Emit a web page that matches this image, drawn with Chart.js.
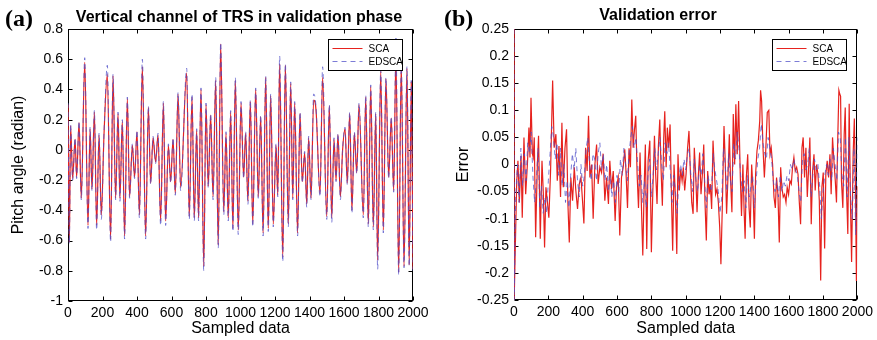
<!DOCTYPE html>
<html>
<head>
<meta charset="utf-8">
<script src="https://cdn.jsdelivr.net/npm/chart.js@4.4.0/dist/chart.umd.min.js"></script>
<style>
  body { margin: 0; background: #fff; }
  #wrap { position: relative; width: 877px; height: 340px; overflow: hidden; }
  canvas { position: absolute; top: 0; }
  #pitchChart { left: 0; }
  #errChart { left: 438px; }
  .tag { position: absolute; font: bold 24px "Liberation Serif", "DejaVu Serif", serif; line-height: 24px; color: #000; }
  .ttl { position: absolute; font: bold 16px "Liberation Sans", Arial, sans-serif; line-height: 18px; color: #000; white-space: nowrap; transform: translateX(-50%); }
</style>
</head>
<body>
<div id="wrap">
  <canvas id="pitchChart" width="438" height="340"></canvas>
  <canvas id="errChart" width="439" height="340"></canvas>
  <div class="tag" style="left:5px; top:6px;">(a)</div>
  <div class="tag" style="left:444px; top:6px;">(b)</div>
  <div class="ttl" style="left:239px; top:8px;">Vertical channel of TRS in validation phase</div>
  <div class="ttl" style="left:658px; top:6px;">Validation error</div>
</div>
<script>
// sample index ticks shared by both panels
const sampleTicks = [0, 200, 400, 600, 800, 1000, 1200, 1400, 1600, 1800, 2000];
const pitchTicks = [-1, -0.8, -0.6, -0.4, -0.2, 0, 0.2, 0.4, 0.6, 0.8];
const errTicks = [-0.25, -0.2, -0.15, -0.1, -0.05, 0, 0.05, 0.1, 0.15, 0.2, 0.25];
const seriesNames = ['SCA', 'EDSCA'];

// pitch angle turning points [sample, radian]
const pitchSCA = [
  [0,0.30],[8,-0.61],[15,0.16],[27,-0.19],[41,0.07],[50,-0.18],[64,0.18],[77,-0.32],[97,0.58],[116,-0.50],
  [128,0.14],[139,-0.26],[153,0.25],[166,-0.50],[180,0.10],[193,-0.43],[209,0.11],[228,0.50],[247,-0.59],[261,0.49],
  [276,-0.32],[290,0.24],[301,-0.32],[315,0.19],[328,-0.57],[344,0.34],[357,-0.31],[373,0.03],[386,-0.18],[400,0.12],
  [414,-0.43],[431,0.55],[450,-0.57],[466,0.28],[479,-0.22],[493,0.08],[508,-0.08],[522,0.10],[537,-0.47],[553,0.31],
  [566,-0.47],[582,0.03],[595,-0.21],[609,0.07],[622,-0.29],[638,0.37],[653,-0.25],[688,0.51],[703,-0.44],[719,0.35],
  [732,-0.45],[746,0.13],[757,-0.45],[771,0.40],[787,-0.77],[800,0.30],[813,-0.24],[827,0.23],[841,-0.31],[856,0.46],
  [871,-0.63],[885,0.70],[903,-0.41],[916,0.11],[929,-0.45],[943,0.25],[956,-0.52],[970,0.46],[987,-0.53],[1003,0.31],
  [1018,-0.18],[1030,0.11],[1043,-0.34],[1057,0.32],[1071,-0.49],[1088,0.40],[1103,-0.31],[1117,0.22],[1131,-0.55],[1146,0.48],
  [1161,-0.52],[1175,0.36],[1190,-0.49],[1206,0.03],[1216,-0.30],[1227,0.57],[1245,-0.71],[1260,0.56],[1277,-0.49],[1291,0.44],
  [1303,-0.32],[1314,0.31],[1331,-0.55],[1345,0.24],[1358,-0.21],[1372,-0.02],[1384,-0.36],[1395,0.08],[1409,-0.32],[1424,0.33],
  [1438,0.26],[1461,-0.29],[1476,0.48],[1500,-0.44],[1515,0.29],[1529,-0.45],[1542,0.07],[1554,-0.20],[1565,0.10],[1579,-0.31],
  [1592,0.00],[1606,0.14],[1619,-0.22],[1633,0.24],[1646,-0.40],[1660,0.11],[1674,-0.15],[1687,0.30],[1712,-0.43],[1726,0.35],
  [1741,-0.49],[1755,0.42],[1770,-0.51],[1784,0.24],[1795,-0.73],[1813,0.52],[1828,-0.53],[1843,0.47],[1859,-0.18],[1874,0.21],
  [1888,-0.27],[1901,0.62],[1917,-0.81],[1932,0.57],[1948,-0.77],[1965,0.54],[1978,-0.76],[1990,0.45],[2000,-0.79]
];
const pitchEDSCA = [
  [0,0.31],[8,-0.62],[15,0.17],[27,-0.20],[41,0.08],[50,-0.19],[64,0.19],[77,-0.33],[97,0.61],[116,-0.52],
  [128,0.15],[139,-0.27],[153,0.26],[166,-0.53],[180,0.11],[193,-0.46],[209,0.12],[228,0.56],[247,-0.61],[261,0.50],
  [276,-0.33],[290,0.25],[301,-0.34],[315,0.20],[328,-0.59],[344,0.35],[357,-0.32],[373,0.04],[386,-0.19],[400,0.13],
  [414,-0.45],[431,0.60],[450,-0.59],[466,0.29],[479,-0.23],[493,0.09],[508,-0.09],[522,0.11],[537,-0.50],[553,0.32],
  [566,-0.50],[582,0.04],[595,-0.22],[609,0.08],[622,-0.30],[638,0.38],[653,-0.27],[688,0.54],[703,-0.46],[719,0.37],
  [732,-0.47],[746,0.14],[757,-0.47],[771,0.41],[787,-0.80],[800,0.31],[813,-0.25],[827,0.24],[841,-0.33],[856,0.48],
  [871,-0.65],[885,0.71],[903,-0.43],[916,0.12],[929,-0.47],[943,0.26],[956,-0.54],[970,0.48],[987,-0.56],[1003,0.32],
  [1018,-0.19],[1030,0.12],[1043,-0.36],[1057,0.33],[1071,-0.51],[1088,0.41],[1103,-0.32],[1117,0.23],[1131,-0.57],[1146,0.49],
  [1161,-0.54],[1175,0.37],[1190,-0.51],[1206,0.04],[1216,-0.31],[1227,0.62],[1245,-0.74],[1260,0.57],[1277,-0.51],[1291,0.45],
  [1303,-0.33],[1314,0.32],[1331,-0.57],[1345,0.25],[1358,-0.22],[1372,-0.01],[1384,-0.38],[1395,0.09],[1409,-0.33],[1424,0.37],
  [1438,0.28],[1461,-0.31],[1476,0.55],[1500,-0.46],[1515,0.30],[1529,-0.48],[1542,0.08],[1554,-0.21],[1565,0.11],[1579,-0.33],
  [1592,0.01],[1606,0.15],[1619,-0.23],[1633,0.25],[1646,-0.42],[1660,0.12],[1674,-0.16],[1687,0.31],[1712,-0.45],[1726,0.36],
  [1741,-0.51],[1755,0.43],[1770,-0.53],[1784,0.25],[1795,-0.79],[1813,0.53],[1828,-0.55],[1843,0.48],[1859,-0.19],[1874,0.22],
  [1888,-0.28],[1901,0.74],[1917,-0.83],[1932,0.58],[1948,-0.78],[1965,0.55],[1978,-0.77],[1990,0.46],[2000,-0.80]
];

// validation error [sample, error]
const errSCA = [
  [0,0.25],[1,-0.25],[16,-0.03],[23,0.007],[31,-0.07],[41,0.016],[48,-0.098],[58,0.05],[68,-0.055],[78,0.0],
  [87,0.068],[93,0.013],[99,0.123],[107,0.02],[112,0.013],[118,0.05],[126,-0.134],[136,0.0],[143,0.053],[153,-0.137],
  [163,0.007],[171,-0.055],[178,-0.153],[186,-0.042],[194,-0.067],[203,-0.098],[213,-0.012],[225,0.155],[234,0.031],[244,0.056],
  [252,-0.03],[262,0.034],[271,-0.06],[279,0.077],[287,-0.042],[297,0.031],[306,0.065],[314,-0.073],[322,-0.144],[331,-0.024],
  [341,-0.067],[351,-0.005],[360,-0.048],[370,-0.082],[380,-0.036],[390,-0.024],[399,-0.067],[407,-0.109],[417,0.031],[426,-0.012],
  [434,0.09],[442,-0.024],[452,0.0],[461,-0.1],[471,0.0],[481,0.037],[490,-0.036],[500,-0.005],[510,-0.015],[519,0.02],
  [529,-0.067],[539,-0.024],[550,-0.073],[558,0.007],[568,-0.045],[578,-0.012],[589,-0.104],[597,-0.042],[607,-0.024],[616,-0.131],
  [626,-0.024],[636,-0.005],[645,0.028],[651,-0.005],[661,-0.08],[670,0.03],[678,-0.005],[686,0.12],[694,0.031],[701,0.062],
  [709,0.09],[717,-0.018],[725,-0.08],[734,0.022],[742,-0.076],[750,-0.168],[758,-0.042],[765,0.037],[773,-0.156],[781,0.007],
  [791,0.044],[800,-0.162],[808,-0.055],[818,0.053],[825,-0.018],[833,-0.073],[841,0.034],[849,0.083],[856,-0.005],[864,-0.076],
  [872,0.05],[878,0.098],[886,-0.005],[893,0.068],[901,0.031],[909,0.074],[917,-0.06],[924,-0.159],[932,0.0],[940,-0.06],
  [948,-0.165],[955,0.019],[963,-0.048],[971,-0.009],[979,-0.03],[986,-0.005],[994,-0.048],[1002,-0.018],[1011,0.031],[1019,0.062],
  [1027,-0.012],[1035,-0.07],[1043,-0.091],[1050,0.031],[1058,-0.018],[1066,-0.088],[1073,-0.024],[1081,0.022],[1089,-0.055],[1097,-0.018],
  [1105,0.037],[1112,-0.067],[1120,-0.14],[1128,-0.012],[1136,-0.055],[1143,-0.036],[1151,-0.082],[1159,0.044],[1167,-0.012],[1174,-0.055],
  [1182,-0.045],[1190,-0.07],[1198,-0.116],[1205,-0.184],[1213,-0.08],[1223,0.071],[1230,0.007],[1238,-0.091],[1246,-0.024],[1254,0.056],
  [1261,-0.027],[1269,-0.088],[1277,0.093],[1285,0.0],[1292,0.111],[1300,0.019],[1308,0.117],[1318,-0.024],[1325,-0.095],[1333,0.0],
  [1340,-0.085],[1346,-0.137],[1353,-0.024],[1361,0.019],[1369,-0.08],[1376,-0.116],[1384,0.0],[1392,-0.048],[1400,-0.137],[1407,-0.018],
  [1415,0.025],[1423,0.044],[1431,0.08],[1436,0.137],[1442,0.117],[1450,0.031],[1458,-0.024],[1466,0.025],[1475,0.096],[1484,0.1],
  [1491,0.019],[1498,0.031],[1506,0.0],[1514,-0.06],[1522,-0.08],[1529,-0.024],[1537,-0.055],[1545,-0.144],[1553,-0.005],[1560,-0.042],
  [1568,-0.06],[1576,-0.055],[1584,-0.07],[1591,-0.042],[1599,-0.055],[1607,-0.03],[1615,-0.036],[1622,-0.005],[1630,0.013],[1638,-0.012],
  [1646,-0.005],[1654,-0.018],[1661,-0.067],[1669,-0.11],[1677,0.031],[1684,0.05],[1692,-0.024],[1700,0.031],[1708,-0.06],[1716,-0.005],
  [1723,0.05],[1731,-0.11],[1739,-0.012],[1747,0.019],[1754,-0.048],[1762,0.0],[1770,-0.018],[1778,-0.067],[1786,-0.214],[1793,-0.042],
  [1801,-0.015],[1809,-0.155],[1816,-0.018],[1824,0.007],[1832,-0.024],[1840,0.019],[1847,-0.055],[1855,0.05],[1863,0.007],[1871,-0.03],
  [1878,-0.07],[1886,0.056],[1892,0.137],[1897,0.13],[1902,0.126],[1907,-0.03],[1915,-0.08],[1923,0.056],[1929,0.105],[1936,-0.042],
  [1944,-0.128],[1952,0.112],[1960,-0.08],[1966,-0.18],[1975,0.019],[1982,0.085],[1989,-0.055],[1994,-0.215],[2000,-0.04]
];
const errEDSCA = [
  [0,0.25],[1,-0.25],[10,-0.06],[20,0.0],[30,-0.07],[40,0.03],[50,-0.04],[60,0.02],[70,-0.03],[80,0.04],
  [90,0.02],[100,0.06],[110,-0.02],[120,-0.07],[130,-0.03],[140,0.03],[150,-0.08],[160,-0.04],[170,-0.09],[180,-0.06],
  [190,-0.09],[200,-0.03],[210,0.02],[220,0.07],[230,0.05],[240,0.01],[250,0.04],[260,-0.02],[270,0.03],[280,-0.04],
  [290,0.0],[300,-0.07],[310,-0.03],[320,-0.08],[330,-0.02],[340,0.02],[350,-0.01],[360,0.03],[370,-0.03],[380,-0.06],
  [390,0.0],[400,-0.04],[410,-0.02],[420,0.03],[430,0.05],[440,0.0],[450,-0.03],[460,0.02],[470,0.01],[480,-0.03],
  [490,0.02],[500,0.04],[510,-0.01],[520,0.02],[530,-0.03],[540,0.0],[550,-0.05],[560,-0.02],[570,-0.06],[580,-0.03],
  [590,-0.07],[600,-0.02],[610,-0.05],[620,0.01],[630,-0.02],[640,0.03],[650,0.0],[660,-0.03],[670,0.02],[680,0.05],
  [690,0.07],[700,0.03],[710,0.05],[720,0.0],[730,-0.04],[740,-0.02],[750,-0.07],[760,-0.03],[770,-0.08],[780,-0.02],
  [790,0.01],[800,-0.06],[810,-0.02],[820,0.03],[830,-0.01],[840,0.02],[850,0.05],[860,0.0],[870,-0.03],[880,0.04],
  [890,0.02],[900,0.04],[910,-0.01],[920,-0.07],[930,-0.02],[940,-0.05],[950,-0.09],[960,-0.03],[970,0.0],[980,-0.02],
  [990,0.01],[1000,-0.01],[1010,0.02],[1020,0.03],[1030,-0.02],[1040,-0.05],[1050,0.01],[1060,-0.03],[1070,-0.05],[1080,0.0],
  [1090,-0.02],[1100,0.02],[1110,-0.03],[1120,-0.08],[1130,-0.02],[1140,-0.04],[1150,-0.05],[1160,0.02],[1170,-0.01],[1180,-0.03],
  [1190,-0.05],[1200,-0.09],[1210,-0.06],[1220,0.03],[1230,0.0],[1240,-0.05],[1250,0.02],[1260,-0.03],[1270,-0.05],[1280,0.04],
  [1290,0.01],[1300,0.06],[1310,0.03],[1320,-0.02],[1330,-0.05],[1340,-0.03],[1350,-0.08],[1360,-0.02],[1370,-0.06],[1380,-0.04],
  [1390,-0.02],[1400,-0.08],[1410,-0.03],[1420,0.01],[1430,0.03],[1440,0.075],[1450,0.04],[1460,0.02],[1470,0.01],[1480,0.05],
  [1490,0.03],[1500,0.01],[1510,-0.03],[1520,-0.05],[1530,-0.03],[1540,-0.06],[1550,-0.02],[1560,-0.05],[1570,-0.03],[1580,-0.04],
  [1590,-0.02],[1600,-0.03],[1610,0.0],[1620,-0.01],[1630,0.01],[1640,-0.01],[1650,-0.02],[1660,-0.05],[1670,-0.07],[1680,0.01],
  [1690,0.02],[1700,-0.01],[1710,0.0],[1720,0.03],[1730,-0.06],[1740,-0.02],[1750,0.01],[1760,-0.01],[1770,0.0],[1780,-0.04],
  [1790,-0.1],[1800,-0.05],[1810,-0.02],[1820,0.0],[1830,-0.02],[1840,0.01],[1850,-0.03],[1860,0.03],[1870,0.0],[1880,-0.03],
  [1890,0.06],[1900,0.05],[1910,-0.02],[1920,-0.04],[1930,0.05],[1940,-0.06],[1950,0.05],[1960,-0.06],[1970,-0.1],[1980,0.03],
  [1990,-0.13],[2000,0.05]
];

const RED = 'rgb(230,34,30)';
const BLUE = 'rgba(80,80,200,0.75)';
const FONT = '"Liberation Sans", Arial, sans-serif';

// axes box with inward ticks on all four sides, drawn under the lines
const framePlugin = {
  id: 'frame',
  beforeDatasetsDraw(chart) {
    const { ctx, chartArea: a, scales: { x, y } } = chart;
    const L = Math.round(a.left) + 0.5, R = Math.round(a.right) - 0.5;
    const T = Math.round(a.top) + 0.5, B = Math.round(a.bottom) - 0.5;
    ctx.save();
    ctx.strokeStyle = '#000';
    ctx.lineWidth = 1;
    ctx.strokeRect(L, T, R - L, B - T);
    ctx.beginPath();
    x.ticks.forEach(t => {
      const px = Math.round(x.getPixelForValue(t.value)) + 0.5;
      ctx.moveTo(px, B); ctx.lineTo(px, B - 4);
      ctx.moveTo(px, T); ctx.lineTo(px, T + 4);
    });
    y.ticks.forEach(t => {
      const py = Math.round(y.getPixelForValue(t.value)) + 0.5;
      ctx.moveTo(L, py); ctx.lineTo(L + 4, py);
      ctx.moveTo(R, py); ctx.lineTo(R - 4, py);
    });
    ctx.stroke();
    ctx.restore();
  }
};

// boxed legend in the top right corner of the plot
const cornerLegend = {
  id: 'cornerLegend',
  afterDraw(chart) {
    const { ctx, chartArea: a } = chart;
    const bx = Math.round(a.right) - 84.5, by = Math.round(a.top) + 10.5, bw = 74, bh = 31;
    ctx.save();
    ctx.lineWidth = 1;
    ctx.fillStyle = '#fff';
    ctx.fillRect(bx, by, bw, bh);
    ctx.strokeStyle = '#000';
    ctx.strokeRect(bx, by, bw, bh);
    ctx.font = '10px ' + FONT;
    ctx.textBaseline = 'middle';
    chart.data.datasets.forEach((ds, i) => {
      const ly = by + 9 + i * 13;
      ctx.strokeStyle = ds.borderColor;
      ctx.setLineDash(ds.borderDash || []);
      ctx.beginPath();
      ctx.moveTo(bx + 4, ly); ctx.lineTo(bx + 34, ly);
      ctx.stroke();
      ctx.fillStyle = '#000';
      ctx.fillText(ds.label, bx + 40, ly + 0.5);
    });
    ctx.restore();
  }
};

function toPoints(pairs) {
  return pairs.map(p => ({ x: p[0], y: p[1] }));
}

function makePanel(id, sca, edsca, yTicks, yTitle, box, smooth) {
  const tickFont = { family: FONT, size: 14 };
  return new Chart(document.getElementById(id), {
    type: 'line',
    data: {
      datasets: [
        { label: seriesNames[0], data: toPoints(sca), borderColor: RED, borderWidth: 1.2, order: 2,
          pointRadius: 0, cubicInterpolationMode: smooth ? 'monotone' : 'default', tension: 0 },
        { label: seriesNames[1], data: toPoints(edsca), borderColor: BLUE, borderWidth: 1, borderDash: [5, 4], order: 1,
          pointRadius: 0, cubicInterpolationMode: smooth ? 'monotone' : 'default', tension: 0 }
      ]
    },
    options: {
      responsive: false,
      animation: false,
      events: [],
      layout: { padding: { left: 0, top: 29, right: box.right, bottom: 0 } },
      plugins: { legend: { display: false }, title: { display: false }, tooltip: { enabled: false } },
      scales: {
        x: {
          type: 'linear', min: 0, max: 2000,
          afterBuildTicks: s => { s.ticks = sampleTicks.map(v => ({ value: v })); },
          afterFit: s => { s.height = box.bottom; },
          grid: { display: false, drawTicks: false },
          border: { display: false },
          ticks: { autoSkip: false, maxRotation: 0, padding: 4, color: '#000', font: tickFont, callback: v => String(v) },
          title: { display: true, text: 'Sampled data', color: '#000', font: { family: FONT, size: 16 }, padding: { top: 0, bottom: 2 } }
        },
        y: {
          type: 'linear', min: yTicks[0], max: yTicks[yTicks.length - 1],
          afterBuildTicks: s => { s.ticks = yTicks.map(v => ({ value: v })); },
          afterFit: s => { s.width = box.left; },
          grid: { display: false, drawTicks: false },
          border: { display: false },
          ticks: { autoSkip: false, padding: 5, color: '#000', font: tickFont, callback: v => String(v) },
          title: { display: true, text: yTitle, color: '#000', font: { family: FONT, size: 16 }, padding: { top: box.titleGap, bottom: 0 } }
        }
      }
    },
    plugins: [framePlugin, cornerLegend]
  });
}

makePanel('pitchChart', pitchSCA, pitchEDSCA, pitchTicks, 'Pitch angle (radian)',
  { left: 68, right: 25, bottom: 39, titleGap: 9 }, true);
makePanel('errChart', errSCA, errEDSCA, errTicks, 'Error',
  { left: 76, right: 19, bottom: 40, titleGap: 16 }, false);
</script>
</body>
</html>
